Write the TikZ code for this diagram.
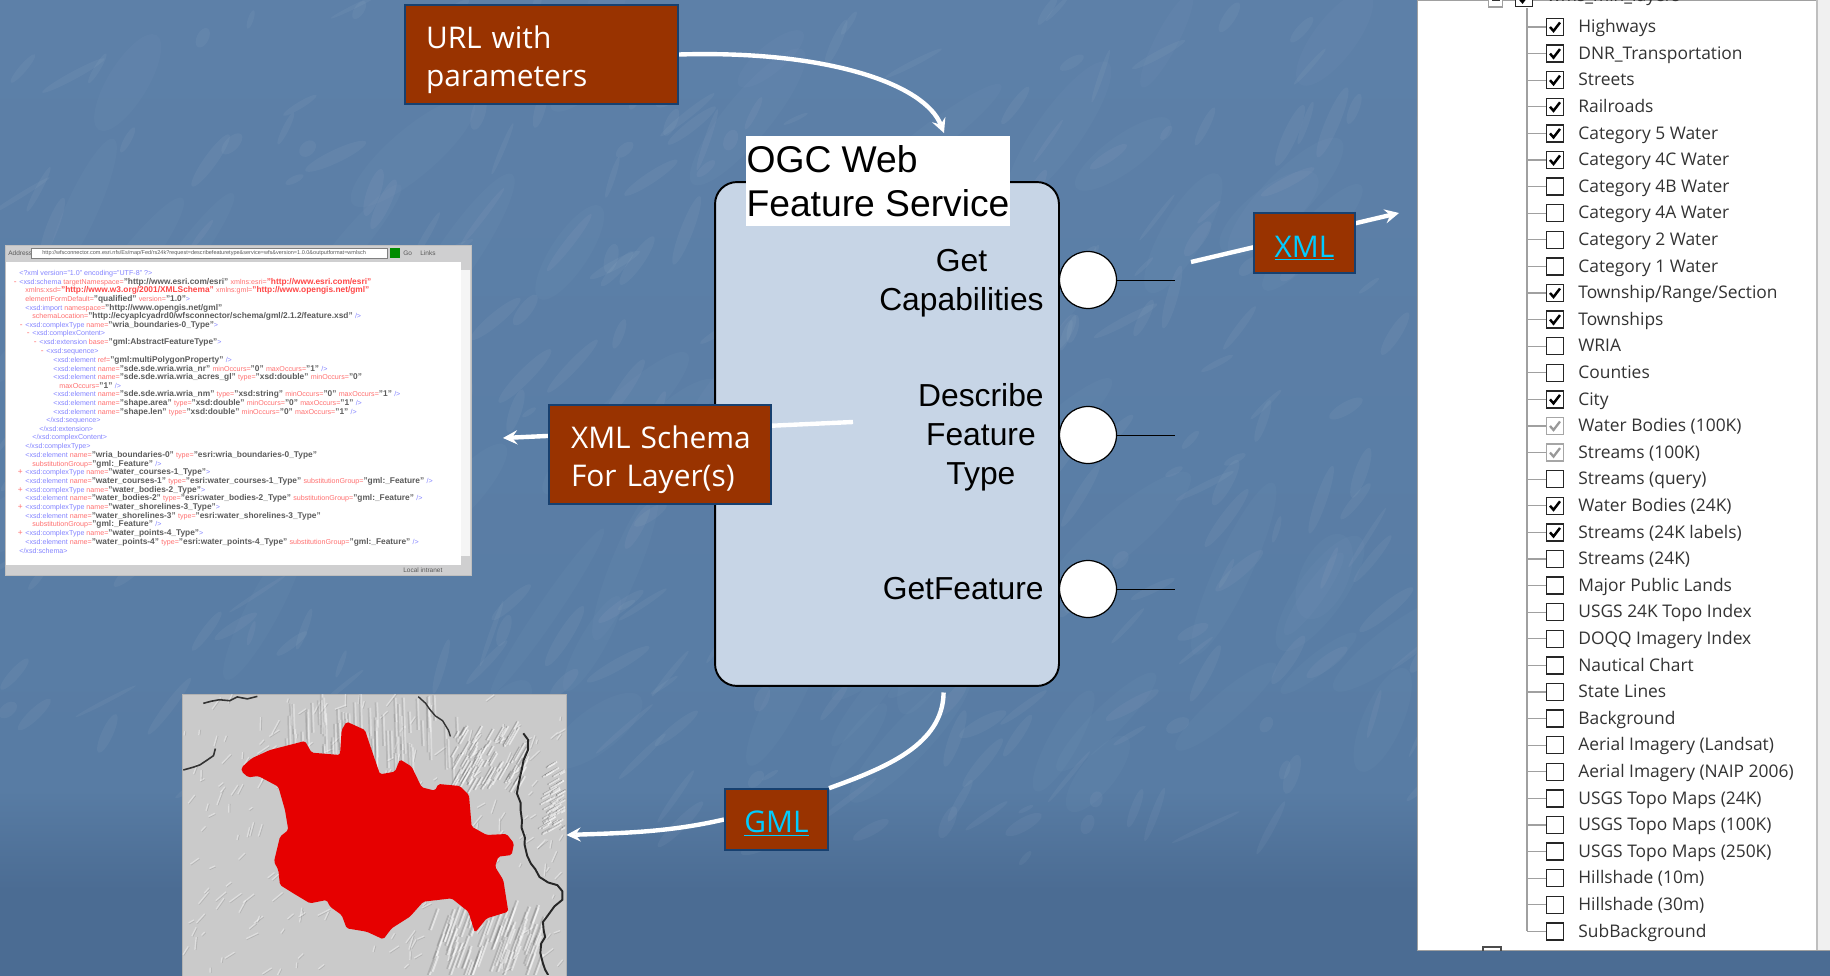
\documentclass[tikz,border=0pt]{standalone}
\usepackage{fontspec}
\setmainfont{Liberation Sans}
\newfontfamily\tahomafont{Open Sans}
\usepackage{tikz}
\usetikzlibrary{calc}
\usetikzlibrary{decorations.pathmorphing}
\pgfdeclarelayer{boxes}
\pgfsetlayers{main,boxes}
\definecolor{slideblue}{HTML}{587CA4}
\definecolor{slidedark}{HTML}{4B6C93}
\definecolor{slidetop}{HTML}{5D80A8}
\definecolor{boxbrown}{HTML}{993300}
\definecolor{boxedge}{HTML}{17406F}
\definecolor{wfsfill}{HTML}{C7D5E6}
\definecolor{linkcyan}{HTML}{00CCFF}
\definecolor{treegray}{HTML}{A0A0A0}
\definecolor{winGray}{HTML}{CFCFD0}
\definecolor{mapgray}{HTML}{CACACA}
\definecolor{mapred}{HTML}{E60000}
\newcommand{\xt}[1]{{\fontsize{4.05}{5.5}\selectfont\textcolor{blue!60!white}{#1}}}
\newcommand{\xa}[1]{{\fontsize{4.05}{5.5}\selectfont\textcolor{red!70!white}{#1}}}
\newcommand{\xv}[1]{\textbf{\textcolor{black!80}{#1}}}
\newcommand{\xr}[1]{\textbf{\textcolor{red!90!white}{#1}}}
\newcommand{\xm}[1]{\llap{\textcolor{red!70!white}{#1}\hspace{1.5pt}}}

\begin{document}
\begin{tikzpicture}[
        x=0.02cm,y=-0.02cm,
        opbox/.style={draw=boxedge,line width=1.2pt,fill=boxbrown,text=white,inner sep=0pt,
            font=\tahomafont\fontsize{17}{21.6}\selectfont},
        linkbox/.style={opbox,text=linkcyan},
        optext/.style={align=center,inner sep=0pt,font=\fontsize{18.1}{22.2}\selectfont},
        port/.style={circle,draw=black,line width=0.7pt,fill=white,minimum size=1.14cm,inner sep=0pt},
        stub/.style={black,line width=0.55pt},
        flow/.style={->,>=stealth,white,line width=2.5pt},
        layerbox/.style={draw=black!85,line width=0.8pt,fill=white,minimum size=0.34cm,inner sep=0pt},
        layertext/.style={anchor=west,inner sep=0pt,text height=8pt,text depth=2.4pt,text=black!80,
            font=\tahomafont\fontsize{9.9}{12}\selectfont},
        xmltext/.style={anchor=west,inner sep=0pt,text opacity=0.8,font=\fontsize{4.75}{5.5}\selectfont},
        wintext/.style={anchor=west,inner sep=0pt,text=black!65,font=\fontsize{3.7}{5}\selectfont},
        ]
    \useasboundingbox (0,0) rectangle (1830,976);
    % slide background
    \shade [top color=slidetop,bottom color=slideblue] (0,0) rectangle (1830,790);
    \shade [top color=slideblue,bottom color=slidedark] (0,790) rectangle (1830,890);
    \fill [slidedark] (0,890) rectangle (1830,976);
    \pgfmathsetseed{4177}
    \foreach \s in {1,...,420} {
        \pgfmathsetmacro{\px}{rnd*1830}
        \pgfmathsetmacro{\py}{rnd*860}
        \pgfmathsetmacro{\pl}{8+rnd*30}
        \pgfmathsetmacro{\pa}{25+rnd*50}
        \fill [white,opacity=0.045,rotate around={\pa:(\px,\py)}] (\px,\py) ellipse [x radius=\pl,y radius=2+rnd*5];
    }
    \foreach \s in {1,...,90} {
        \pgfmathsetmacro{\px}{rnd*1830}
        \pgfmathsetmacro{\py}{rnd*800}
        \pgfmathsetmacro{\pa}{35+rnd*35}
        \fill [white,opacity=0.025,rotate around={\pa:(\px,\py)}] (\px,\py) ellipse [x radius=40+rnd*60,y radius=10+rnd*14];
    }

    % service box
    \node (wfs) [draw=black,line width=1.1pt,fill=wfsfill,rounded corners=0.44cm,
        minimum width=6.88cm,minimum height=10.08cm,inner sep=0pt] at (887,434) {};
    \node (title) [fill=white,minimum width=5.28cm,minimum height=1.82cm,inner sep=0pt,align=left,
        font=\fontsize{21.2}{25}\selectfont] at (878,181) {OGC Web\\Feature Service};
    \node (portcaps) [port] at (1088,280) {};
    \node (portdesc) [port] at (1088,435) {};
    \node (portfeat) [port] at (1088,589) {};
    \coordinate (endcaps) at (1175,280);
    \coordinate (enddesc) at (1175,435);
    \coordinate (endfeat) at (1175,589);
    \draw [stub] (portcaps) -- (endcaps);
    \draw [stub] (portdesc) -- (enddesc);
    \draw [stub] (portfeat) -- (endfeat);
    \node (opcaps) [optext,anchor=east] at (1044,283) {Get\\Capabilities};
    \node (opdesc) [optext,anchor=east] at (1044,437) {Describe\\Feature\\Type};
    \node (opfeat) [optext,anchor=east] at (1044,589) {GetFeature};

    \node (xmlwin) [fill=winGray,draw=white!75!black,line width=0.5pt,minimum width=9.32cm,minimum height=6.6cm,inner sep=0pt] at (238,410) {};
    \node (map) [fill=mapgray,draw=white!70!black,line width=0.5pt,minimum width=7.68cm,minimum height=5.64cm,inner sep=0pt] at (374,835) {};

    \begin{pgfonlayer}{boxes}
        \node (urlbox) [opbox,minimum width=5.46cm,minimum height=1.98cm,text width=4.62cm,align=left] at (541.5,54.5) {\rule{0pt}{18.5pt}URL with\\parameters};
        \node (xmlbox) [linkbox,minimum width=2.02cm,minimum height=1.2cm] at (1304.5,243) {\rule{0pt}{18pt}\underline{XML}};
        \node (schemabox) [opbox,minimum width=4.44cm,minimum height=1.98cm,text width=3.56cm,align=left] at (660,454.5) {\rule{0pt}{18.5pt}\mbox{XML Schema}\\For Layer(s)};
        \node (gmlbox) [linkbox,minimum width=2.06cm,minimum height=1.21cm] at (776.5,819.5) {\rule{0pt}{17pt}\underline{GML}};
    \end{pgfonlayer}

    % connectors
    \coordinate (wfstop) at (944,133);
    \coordinate (wfsbottom) at (943.6,692.5);
    \coordinate (capstart) at (1191,262);
    \coordinate (capend) at (1399,213);
    \coordinate (descstart) at (853,422);
    \coordinate (descend) at (503,438);
    \draw [flow] (urlbox.east) .. controls (830,50) and (925,85) .. (wfstop);
    \draw [flow] (capstart) -- (capend);
    \draw [flow] (descstart) -- (descend);
    \draw [white,line width=2.5pt] (wfsbottom) .. controls (943,745) and (885,768) .. (gmlbox.north east);
    \draw [flow] (gmlbox.west) .. controls (670,832) and (625,833) .. (map.east);

    % schema window
    \fill [white] (6,262) rectangle (470,565);
    \fill [black!4] (461,262) rectangle (470,565);
    \fill [winGray] (461,262) rectangle (470,270);
    \fill [winGray] (461,556) rectangle (470,565);
    \node (winaddr) [wintext] at (8,253) {Address};
    \node (winfield) [draw=black!50,fill=white,line width=0.3pt,minimum width=7.12cm,minimum height=0.2cm,inner sep=0pt] at (209,253) {};
    \node (winurl) [wintext,font=\fontsize{3.15}{4}\selectfont] at (42,253) {http://wfsconnector.com.esri.nfs/Es/map/Fed/rs24k?request=describefeaturetype\&service=wfs\&version=1.0.0\&outputformat=wmlsch};
    \node (wingo) [fill=green!55!black,minimum size=0.2cm,inner sep=0pt] at (395,253) {};
    \node (wingolabel) [wintext] at (403,253) {Go};
    \node (winlinks) [wintext] at (420,253) {Links};
    \node (winstatus) [wintext] at (403,570) {Local intranet};
    \foreach \xx/\txt [count=\i from 0] in {
        19/{\xt{<?xml version="1.0" encoding="UTF-8" ?>}},
        19/{\xm{-}\xt{<xsd:schema }\xa{targetNamespace=}\xv{"http://www.esri.com/esri"} \xa{xmlns:esri=}\xr{"http://www.esri.com/esri"}},
        25/{\xa{xmlns:xsd=}\xr{"http://www.w3.org/2001/XMLSchema"} \xa{xmlns:gml=}\xr{"http://www.opengis.net/gml"}},
        25/{\xa{elementFormDefault=}\xv{"qualified"} \xa{version=}\xv{"1.0"}\xt{>}},
        25/{\xt{<xsd:import }\xa{namespace=}\xv{"http://www.opengis.net/gml"}},
        32/{\xa{schemaLocation=}\xv{"http://ecyaplcyadrd0/wfsconnector/schema/gml/2.1.2/feature.xsd"} \xt{/>}},
        25/{\xm{-}\xt{<xsd:complexType }\xa{name=}\xv{"wria\_boundaries-0\_Type"}\xt{>}},
        32/{\xm{-}\xt{<xsd:complexContent>}},
        39/{\xm{-}\xt{<xsd:extension }\xa{base=}\xv{"gml:AbstractFeatureType"}\xt{>}},
        46/{\xm{-}\xt{<xsd:sequence>}},
        53/{\xt{<xsd:element }\xa{ref=}\xv{"gml:multiPolygonProperty"} \xt{/>}},
        53/{\xt{<xsd:element }\xa{name=}\xv{"sde.sde.wria.wria\_nr"} \xa{minOccurs=}\xv{"0"} \xa{maxOccurs=}\xv{"1"} \xt{/>}},
        53/{\xt{<xsd:element }\xa{name=}\xv{"sde.sde.wria.wria\_acres\_gl"} \xa{type=}\xv{"xsd:double"} \xa{minOccurs=}\xv{"0"}},
        59/{\xa{maxOccurs=}\xv{"1"} \xt{/>}},
        53/{\xt{<xsd:element }\xa{name=}\xv{"sde.sde.wria.wria\_nm"} \xa{type=}\xv{"xsd:string"} \xa{minOccurs=}\xv{"0"} \xa{maxOccurs=}\xv{"1"} \xt{/>}},
        53/{\xt{<xsd:element }\xa{name=}\xv{"shape.area"} \xa{type=}\xv{"xsd:double"} \xa{minOccurs=}\xv{"0"} \xa{maxOccurs=}\xv{"1"} \xt{/>}},
        53/{\xt{<xsd:element }\xa{name=}\xv{"shape.len"} \xa{type=}\xv{"xsd:double"} \xa{minOccurs=}\xv{"0"} \xa{maxOccurs=}\xv{"1"} \xt{/>}},
        46/{\xt{</xsd:sequence>}},
        39/{\xt{</xsd:extension>}},
        32/{\xt{</xsd:complexContent>}},
        25/{\xt{</xsd:complexType>}},
        25/{\xt{<xsd:element }\xa{name=}\xv{"wria\_boundaries-0"} \xa{type=}\xv{"esri:wria\_boundaries-0\_Type"}},
        32/{\xa{substitutionGroup=}\xv{"gml:\_Feature"} \xt{/>}},
        25/{\xm{+}\xt{<xsd:complexType }\xa{name=}\xv{"water\_courses-1\_Type"}\xt{>}},
        25/{\xt{<xsd:element }\xa{name=}\xv{"water\_courses-1"} \xa{type=}\xv{"esri:water\_courses-1\_Type"} \xa{substitutionGroup=}\xv{"gml:\_Feature"} \xt{/>}},
        25/{\xm{+}\xt{<xsd:complexType }\xa{name=}\xv{"water\_bodies-2\_Type"}\xt{>}},
        25/{\xt{<xsd:element }\xa{name=}\xv{"water\_bodies-2"} \xa{type=}\xv{"esri:water\_bodies-2\_Type"} \xa{substitutionGroup=}\xv{"gml:\_Feature"} \xt{/>}},
        25/{\xm{+}\xt{<xsd:complexType }\xa{name=}\xv{"water\_shorelines-3\_Type"}\xt{>}},
        25/{\xt{<xsd:element }\xa{name=}\xv{"water\_shorelines-3"} \xa{type=}\xv{"esri:water\_shorelines-3\_Type"}},
        32/{\xa{substitutionGroup=}\xv{"gml:\_Feature"} \xt{/>}},
        25/{\xm{+}\xt{<xsd:complexType }\xa{name=}\xv{"water\_points-4\_Type"}\xt{>}},
        25/{\xt{<xsd:element }\xa{name=}\xv{"water\_points-4"} \xa{type=}\xv{"esri:water\_points-4\_Type"} \xa{substitutionGroup=}\xv{"gml:\_Feature"} \xt{/>}},
        19/{\xt{</xsd:schema>}}%
    } {
        \node (xmlline\i) [xmltext] at (\xx,{273.3+8.67*\i}) {\txt};
    }

    % hillshade map, in 3x crop units
    \begin{scope}[shift={(170,680)},x=0.006667cm,y=-0.006667cm]
        \clip (38,44) rectangle (1186,885);
        \pgfmathsetseed{911}
        \foreach \s in {1,...,260} {
            \pgfmathsetmacro{\px}{40+rnd*1140}
            \pgfmathsetmacro{\py}{44+rnd*840}
            \pgfmathsetmacro{\pa}{20+rnd*70}
            \pgfmathsetmacro{\pl}{6+rnd*18}
            \draw [black!60,opacity=0.22,line width=0.6pt,rotate around={\pa:(\px,\py)}] (\px-\pl,\py) -- (\px+\pl,\py);
            \draw [white,opacity=0.4,line width=0.8pt,rotate around={\pa:(\px,\py)}] (\px-\pl,\py-3) -- (\px+\pl,\py-3);
        }
        % ridges along the top and the lower right
        \foreach \s in {1,...,70} {
            \pgfmathsetmacro{\px}{340+rnd*520}
            \pgfmathsetmacro{\py}{80+rnd*190}
            \pgfmathsetmacro{\pl}{25+rnd*50}
            \draw [black!55,opacity=0.22,line width=1pt] (\px,\py-\pl) -- (\px+3,\py+\pl);
            \draw [white,opacity=0.35,line width=1pt] (\px+5,\py-\pl) -- (\px+8,\py+\pl);
        }
        \foreach \s in {1,...,70} {
            \pgfmathsetmacro{\px}{780+rnd*330}
            \pgfmathsetmacro{\py}{700+rnd*170}
            \pgfmathsetmacro{\pl}{18+rnd*35}
            \draw [black!55,opacity=0.28,line width=1pt,rotate around={70:(\px,\py)}] (\px-\pl,\py) -- (\px+\pl,\py);
            \draw [white,opacity=0.5,line width=1pt,rotate around={70:(\px+6,\py)}] (\px+6-\pl,\py) -- (\px+6+\pl,\py);
        }
        \foreach \s in {1,...,80} {
            \pgfmathsetmacro{\px}{850+rnd*220}
            \pgfmathsetmacro{\py}{150+rnd*170}
            \pgfmathsetmacro{\pl}{10+rnd*22}
            \draw [black!65,opacity=0.3,line width=0.8pt,rotate around={60:(\px,\py)}] (\px-\pl,\py) -- (\px+\pl,\py);
            \draw [white,opacity=0.55,line width=0.9pt,rotate around={60:(\px+5,\py)}] (\px+5-\pl,\py) -- (\px+5+\pl,\py);
        }
        \foreach \s in {1,...,50} {
            \pgfmathsetmacro{\px}{1120+rnd*65}
            \pgfmathsetmacro{\py}{250+rnd*210}
            \pgfmathsetmacro{\pl}{8+rnd*15}
            \draw [black!65,opacity=0.35,line width=0.8pt,rotate around={30:(\px,\py)}] (\px-\pl,\py) -- (\px+\pl,\py);
            \draw [white,opacity=0.6,line width=0.9pt,rotate around={30:(\px+4,\py)}] (\px+4-\pl,\py) -- (\px+4+\pl,\py);
        }
        \draw [black!85,line width=1.1pt,decorate,decoration={random steps,segment length=5pt,amplitude=1pt}] (1060,160) .. controls (1090,210) and (1030,290) .. (1045,340) .. controls (1060,450) and (1060,530) .. (1110,590) .. controls (1150,610) and (1180,630) .. (1170,660) .. controls (1130,700) and (1110,740) .. (1130,770) .. controls (1110,800) and (1120,850) .. (1135,885);
        \draw [black!80,line width=0.9pt,decorate,decoration={random steps,segment length=5pt,amplitude=1pt}] (100,70) .. controls (150,55) and (200,60) .. (262,48);
        \draw [black!80,line width=0.9pt,decorate,decoration={random steps,segment length=5pt,amplitude=1pt}] (40,270) .. controls (80,255) and (120,245) .. (135,205);
        \draw [black!80,line width=0.8pt,decorate,decoration={random steps,segment length=5pt,amplitude=1pt}] (745,50) .. controls (790,100) and (820,120) .. (840,170);
        \fill [mapred,rounded corners=1pt] (215,262) -- (245,235) -- (300,210) -- (405,183) -- (425,218) -- (510,225) -- (515,150)
            -- (530,125) -- (585,150) -- (605,210) -- (630,283) -- (675,275) -- (690,238) -- (725,260) -- (755,322)
            -- (795,332) -- (805,312) -- (870,318) -- (897,345) -- (905,440) -- (950,465) -- (1010,462) -- (1032,490)
            -- (1025,525) -- (985,530) -- (975,560) -- (1000,600) -- (1015,695) -- (950,715) -- (915,758) -- (895,695)
            -- (845,655) -- (760,665) -- (720,710) -- (665,745) -- (640,778) -- (590,755) -- (530,745) -- (515,705)
            -- (480,680) -- (470,660) -- (420,670) -- (370,640) -- (330,615) -- (325,570) -- (312,545) -- (330,470)
            -- (355,450) -- (345,390) -- (325,320) -- (265,288) -- (235,292) -- (215,275) -- cycle;
    \end{scope}

    % layer panel
    \begin{scope}
        \clip (1417,0) rectangle (1830,950);
        \node (panel) [fill=white,draw=treegray,line width=0.5pt,anchor=north west,minimum width=8.26cm,minimum height=19cm,inner sep=0pt] at (1417,0) {};
        \fill [black!6] (1817,0) rectangle (1830,950);
        \draw [black!25,line width=0.6pt] (1817,0) -- (1817,950);
        \node (treeminus) [draw=treegray,fill=white,line width=0.6pt,minimum size=0.28cm,inner sep=0pt] at (1495.5,0) {};
        \draw [black!80,line width=0.7pt,shift={(treeminus.center)}] (-4,0) -- (4,0);
        \node (rootbox) [layerbox] at (1524,-2) {};
        \draw [treegray,line width=0.7pt] (treeminus) -- (rootbox);
        \draw [black,line width=1.4pt,shift={(rootbox.center)}] (-5,0) -- (-1.5,4) -- (5,-4.5);
        \node (rootlabel) [layertext] at (1547,-3) {wms\_min\_layers};
        \node (lowerbox) [draw=black!70,line width=0.7pt,minimum size=0.36cm,inner sep=0pt] at (1492,956) {};
        \coordinate (trunk) at (1527,8);
        \draw [treegray,line width=0.7pt] (trunk) -- (1527,931);
        \foreach \layername/\layerstate [count=\i from 0] in {
            Highways/1,DNR\_Transportation/1,Streets/1,Railroads/1,Category 5 Water/1,Category 4C Water/1,
            Category 4B Water/0,Category 4A Water/0,Category 2 Water/0,Category 1 Water/0,
            {Township/Range/Section}/1,Townships/1,WRIA/0,Counties/0,City/1,Water Bodies (100K)/2,Streams (100K)/2,
            Streams (query)/0,Water Bodies (24K)/1,Streams (24K labels)/1,Streams (24K)/0,Major Public Lands/0,
            USGS 24K Topo Index/0,DOQQ Imagery Index/0,Nautical Chart/0,State Lines/0,Background/0,
            Aerial Imagery (Landsat)/0,Aerial Imagery (NAIP 2006)/0,USGS Topo Maps (24K)/0,USGS Topo Maps (100K)/0,
            USGS Topo Maps (250K)/0,Hillshade (10m)/0,Hillshade (30m)/0,SubBackground/0%
        } {
            \ifnum\layerstate=2
                \node (box\i) [layerbox,draw=black!35] at (1555,{27+26.6*\i}) {};
                \draw [black!40,line width=1.3pt,shift={(box\i.center)}] (-5,0) -- (-1.5,4) -- (5,-4.5);
            \else
                \node (box\i) [layerbox] at (1555,{27+26.6*\i}) {};
            \fi
            \ifnum\layerstate=1
                \draw [black,line width=1.4pt,shift={(box\i.center)}] (-5,0) -- (-1.5,4) -- (5,-4.5);
            \fi
            \node (label\i) [layertext] at (1578,{27.7+26.6*\i}) {\layername};
            \draw [treegray,line width=0.7pt] (trunk |- box\i.west) -- (box\i.west);
        }
    \end{scope}
\end{tikzpicture}
\end{document}
